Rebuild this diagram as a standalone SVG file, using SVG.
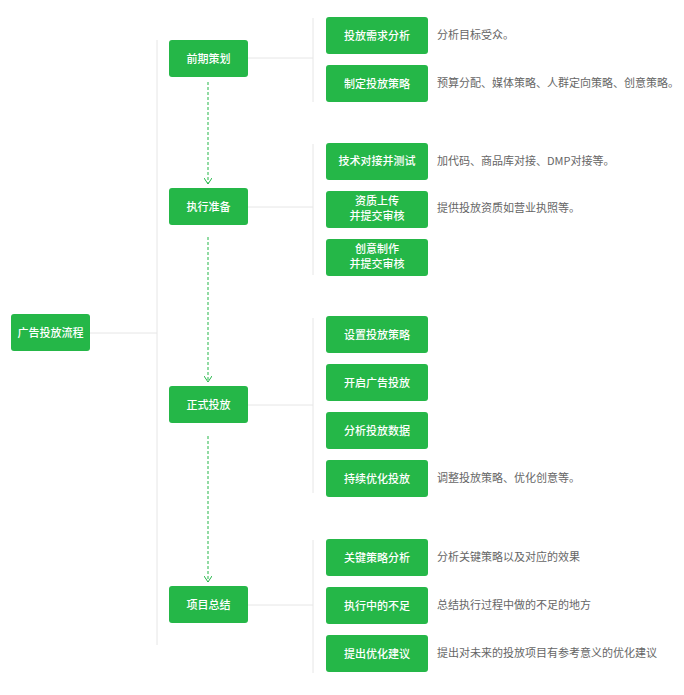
<svg xmlns="http://www.w3.org/2000/svg" width="684" height="695" viewBox="0 0 684 695">
<style>
.b{fill:#25b748}
.t{fill:#fff;font-family:"Noto Sans CJK SC","Noto Sans",sans-serif;font-size:11px;text-anchor:middle;font-weight:500}
.d{fill:#666;font-family:"Noto Sans CJK SC","Noto Sans",sans-serif;font-size:11px}
.l{stroke:#e6e6e6;stroke-width:1;fill:none}
.a{stroke:#25b748;stroke-width:1;stroke-dasharray:3,2;fill:none}
</style>
<defs><marker id="m" markerWidth="8" markerHeight="8" refX="6" refY="4" orient="auto" markerUnits="userSpaceOnUse"><path d="M0,0 L6,4 L0,8" fill="none" stroke="#25b748"/></marker></defs>
<rect width="684" height="695" fill="#fff"/>
<g id="connectors">
<path class="l" d="M90,333H157M157,40V645M248,58H313M313,18V102M248,207H313M313,144V275M248,405H313M313,318V493M248,605H313M313,540V673"/>
<path class="a" d="M208,82V184" marker-end="url(#m)"/>
<path class="a" d="M208,237V382" marker-end="url(#m)"/>
<path class="a" d="M208,436V582" marker-end="url(#m)"/>
</g>
<g id="root"><rect class="b" x="11" y="314" width="79" height="37" rx="3"/><text class="t" x="50.5" y="337">广告投放流程</text></g>
<g id="s1"><rect class="b" x="169" y="40" width="79" height="37" rx="3"/><text class="t" x="208.5" y="63">前期策划</text></g>
<g id="s2"><rect class="b" x="169" y="188" width="79" height="37" rx="3"/><text class="t" x="208.5" y="211">执行准备</text></g>
<g id="s3"><rect class="b" x="169" y="386" width="79" height="37" rx="3"/><text class="t" x="208.5" y="409">正式投放</text></g>
<g id="s4"><rect class="b" x="169" y="586" width="79" height="37" rx="3"/><text class="t" x="208.5" y="609">项目总结</text></g>
<g id="n1"><rect class="b" x="326" y="17" width="102" height="37" rx="3"/><text class="t" x="377" y="40">投放需求分析</text><text class="d" x="437" y="39">分析目标受众。</text></g>
<g id="n2"><rect class="b" x="326" y="65" width="102" height="37" rx="3"/><text class="t" x="377" y="88">制定投放策略</text><text class="d" x="437" y="87">预算分配、媒体策略、人群定向策略、创意策略。</text></g>
<g id="n3"><rect class="b" x="326" y="143" width="102" height="37" rx="3"/><text class="t" x="377" y="165">技术对接并测试</text><text class="d" x="437" y="165">加代码、商品库对接、DMP对接等。</text></g>
<g id="n4"><rect class="b" x="326" y="191" width="102" height="37" rx="3"/><text class="t" x="377" y="205">资质上传</text><text class="t" x="377" y="220">并提交审核</text><text class="d" x="437" y="212">提供投放资质如营业执照等。</text></g>
<g id="n5"><rect class="b" x="326" y="239" width="102" height="37" rx="3"/><text class="t" x="377" y="253">创意制作</text><text class="t" x="377" y="268">并提交审核</text></g>
<g id="n6"><rect class="b" x="326" y="316" width="102" height="37" rx="3"/><text class="t" x="377" y="339">设置投放策略</text></g>
<g id="n7"><rect class="b" x="326" y="364" width="102" height="37" rx="3"/><text class="t" x="377" y="387">开启广告投放</text></g>
<g id="n8"><rect class="b" x="326" y="412" width="102" height="37" rx="3"/><text class="t" x="377" y="435">分析投放数据</text></g>
<g id="n9"><rect class="b" x="326" y="460" width="102" height="37" rx="3"/><text class="t" x="377" y="483">持续优化投放</text><text class="d" x="437" y="482">调整投放策略、优化创意等。</text></g>
<g id="n10"><rect class="b" x="326" y="539" width="102" height="37" rx="3"/><text class="t" x="377" y="562">关键策略分析</text><text class="d" x="437" y="561">分析关键策略以及对应的效果</text></g>
<g id="n11"><rect class="b" x="326" y="587" width="102" height="37" rx="3"/><text class="t" x="377" y="610">执行中的不足</text><text class="d" x="437" y="609">总结执行过程中做的不足的地方</text></g>
<g id="n12"><rect class="b" x="326" y="635" width="102" height="37" rx="3"/><text class="t" x="377" y="658">提出优化建议</text><text class="d" x="437" y="657">提出对未来的投放项目有参考意义的优化建议</text></g>
</svg>
